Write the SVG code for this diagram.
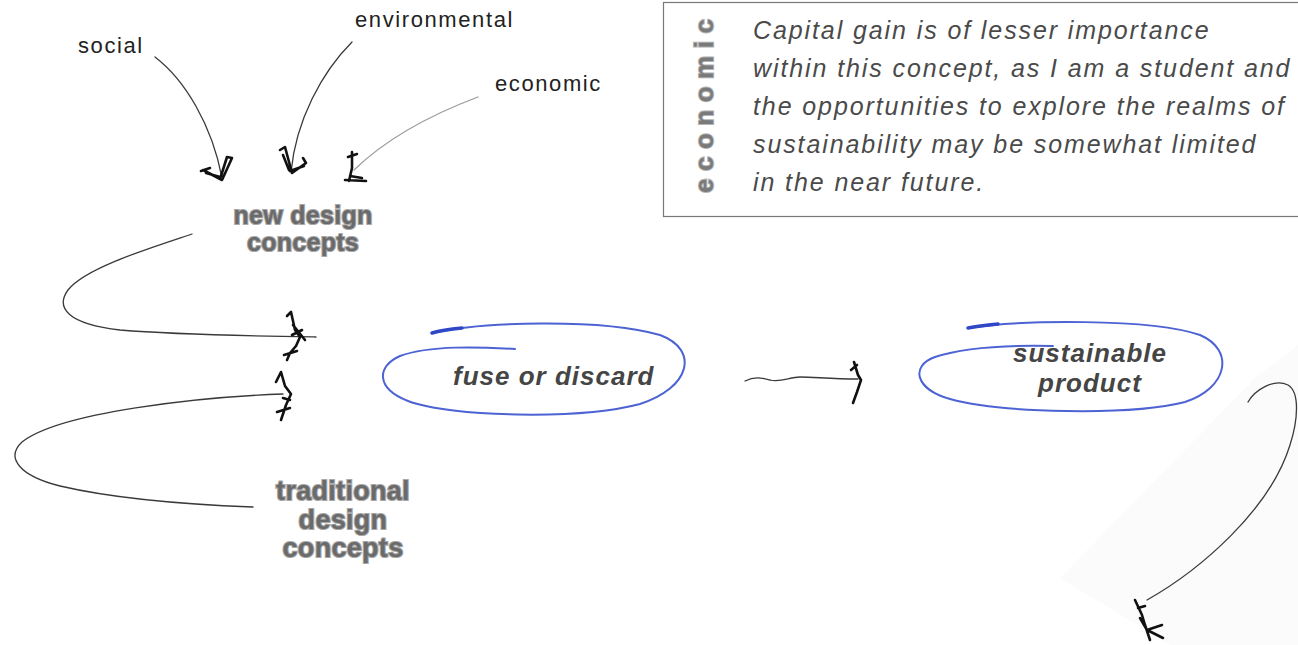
<svg xmlns="http://www.w3.org/2000/svg" width="1298" height="645" viewBox="0 0 1298 645">
<style>
.lbl{font-family:"Liberation Sans",Arial,sans-serif;font-size:22px;letter-spacing:1.6px;fill:#222}
.note{font-family:"Liberation Sans",Arial,sans-serif;font-size:25px;font-style:italic;letter-spacing:1.9px;fill:#4a4a4a}
.vert{font-family:"Liberation Sans",Arial,sans-serif;font-size:26px;font-weight:bold;letter-spacing:7.5px;fill:#7a7a7a;stroke:#b4b4b4;stroke-width:2;paint-order:stroke}
.gray{font-family:"Liberation Sans",Arial,sans-serif;font-weight:bold;fill:#6a6a6a;stroke:#a8a8a8;stroke-width:2.2;paint-order:stroke;text-anchor:middle;letter-spacing:0.3px}
.oval{font-family:"Liberation Sans",Arial,sans-serif;font-size:26px;font-weight:bold;font-style:italic;letter-spacing:1px;fill:#454545}
.thin{fill:none;stroke:#3a3a3a;stroke-width:1.3;stroke-linecap:round}
.light{fill:none;stroke:#9a9a9a;stroke-width:1.3;stroke-linecap:round}
.head{fill:none;stroke:#111;stroke-width:2.6;stroke-linecap:round;stroke-linejoin:round}
.blue{fill:none;stroke:#4d63d4;stroke-width:2;stroke-linecap:round}
</style>
<rect width="1298" height="645" fill="#fff"/>
<polygon points="1255,378 1298,345 1298,645 1170,645 1060,578" fill="#fbfbfb"/>

<g id="node-social"><text class="lbl" x="78" y="53">social</text></g>
<g id="node-environmental"><text class="lbl" x="355" y="27">environmental</text></g>
<g id="node-economic"><text class="lbl" x="495" y="91">economic</text></g>

<g id="node-note">
<rect x="663.5" y="2.5" width="700" height="214" fill="none" stroke="#777" stroke-width="1.2"/>
<text class="vert" transform="translate(713,193) rotate(-90)">economic</text>
<text class="note" x="753" y="39">Capital gain is of lesser importance</text>
<text class="note" x="753" y="77">within this concept, as I am a student and</text>
<text class="note" x="753" y="115">the opportunities to explore the realms of</text>
<text class="note" x="753" y="153">sustainability may be somewhat limited</text>
<text class="note" x="753" y="191">in the near future.</text>
</g>

<g id="node-new-design">
<text class="gray" x="303" y="224" font-size="25">new design</text>
<text class="gray" x="303" y="251" font-size="25">concepts</text>
</g>

<g id="node-traditional">
<text class="gray" x="343" y="500" font-size="27">traditional</text>
<text class="gray" x="343" y="529" font-size="27">design</text>
<text class="gray" x="343" y="557" font-size="27">concepts</text>
</g>

<g id="node-fuse">
<path class="blue" d="M432,333 C480,322 600,318 660,335 C700,350 690,388 640,404 C580,420 450,417 408,401 C375,388 377,366 400,356 C430,345 480,347 515,349"/>
<path d="M432,333 C442,330 452,329 462,328" fill="none" stroke="#3048c8" stroke-width="3.5" stroke-linecap="round"/>
<text class="oval" x="453" y="385">fuse or discard</text>
</g>

<g id="node-sustainable">
<path class="blue" d="M968,328 C1020,320 1150,318 1200,335 C1235,350 1228,388 1185,402 C1130,416 1000,413 950,399 C915,389 910,366 935,357 C965,347 1010,345 1053,346"/>
<path d="M968,328 C978,326 988,325 998,324" fill="none" stroke="#3048c8" stroke-width="3.5" stroke-linecap="round"/>
<text class="oval" x="1090" y="362" text-anchor="middle">sustainable</text>
<text class="oval" x="1090" y="392" text-anchor="middle">product</text>
</g>

<g id="connectors">
<path class="thin" d="M155,57 C185,80 212,125 222,178"/>
<path class="head" d="M201,171 L210,168 M203,170 L222,180 L232,158 L227,157 L221,176 M206,173 L220,177"/>
<path class="thin" d="M352,42 C322,72 296,120 291,172"/>
<path class="head" d="M280,150 L285,147 L292,173 L306,163 L303,158 M283,155 L289,170 M290,171 L304,166"/>
<path class="light" d="M478,97 C430,115 385,140 354,170"/>
<path class="head" d="M352,152 L352,168 L349,181 M345,180 L366,181 M348,157 L357,154 M350,176 L362,178"/>

<path class="thin" d="M192,234 C150,248 85,268 68,290 C55,308 68,324 120,330 C180,335 250,336 316,337"/>
<path class="head" d="M287,316 L291,312 L295,330 L300,337 L296,346 L290,353 L287,360 M284,355 L297,351 M293,325 L305,340 M292,335 L302,330"/>
<path class="thin" d="M253,507 C200,505 120,500 60,486 C20,476 5,458 22,442 C60,412 200,397 283,394"/>
<path class="head" d="M276,382 L281,372 L285,386 L291,394 L286,405 L281,420 M277,412 L290,408 M283,398 L290,400"/>

<path class="thin" d="M745,381 C755,376 762,378 770,380 C780,383 790,377 800,377 C815,377 830,379 858,379"/>
<path class="head" d="M854,362 L858,375 L861,380 L857,392 L853,403 M851,370 L857,365"/>

<path class="thin" d="M1248,402 C1255,390 1274,378 1288,385 C1300,392 1298,420 1290,445 C1270,510 1200,570 1147,600"/>
<path class="head" d="M1135,600 L1142,615 L1145,625 L1150,640 M1140,618 L1147,630 L1162,625 M1147,630 L1163,638 M1138,608 L1145,606"/>
</g>
</svg>
